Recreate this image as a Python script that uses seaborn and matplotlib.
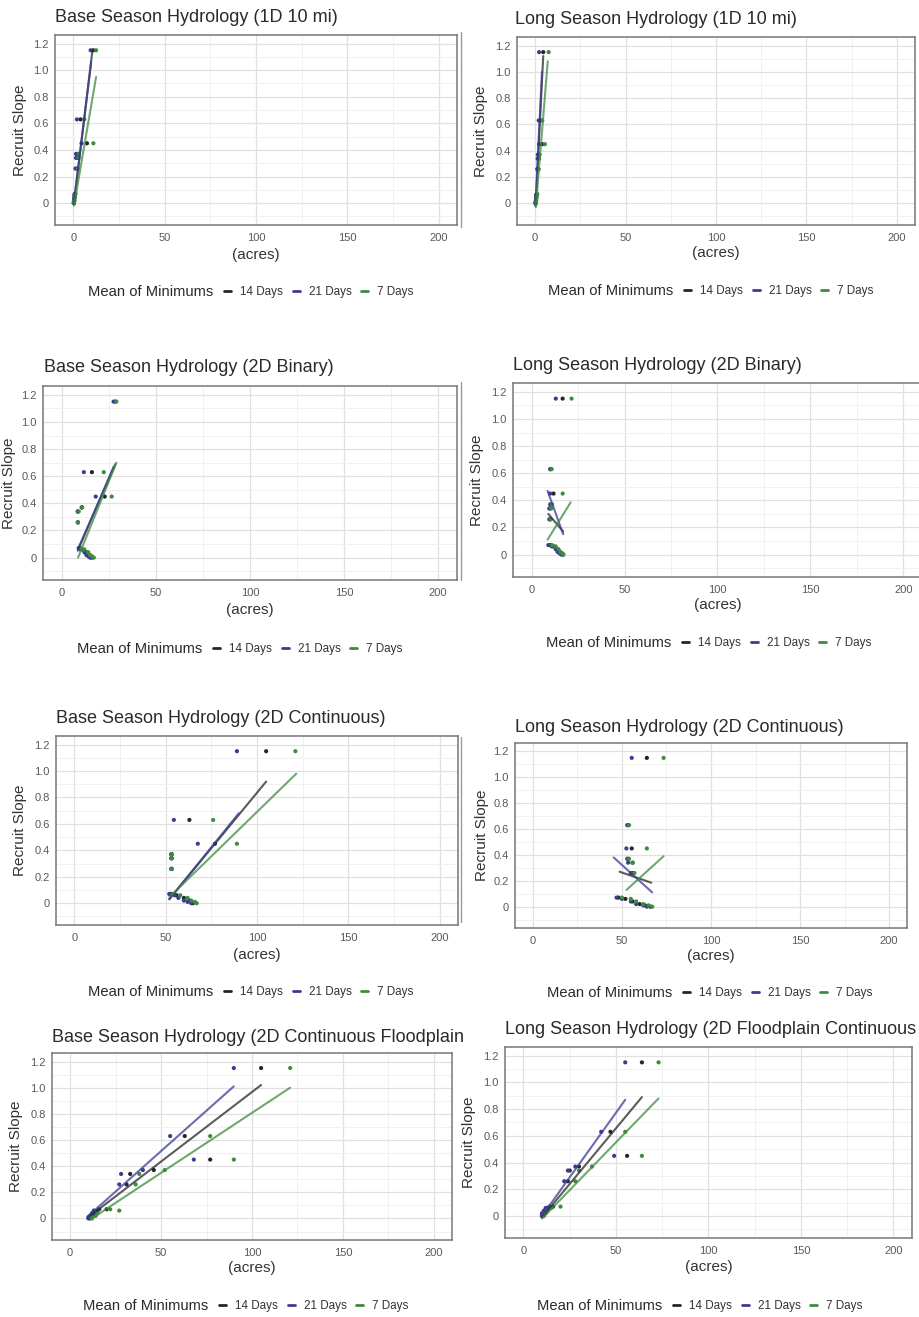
import numpy as np
import pandas as pd
import matplotlib
matplotlib.use("Agg")
import matplotlib.pyplot as plt
from matplotlib.lines import Line2D
from matplotlib.ticker import FixedLocator, FixedFormatter
import seaborn as sns

sns.set_theme(style="white")
plt.rcParams["font.family"] = ["Liberation Sans", "DejaVu Sans"]

WINDOWS = ["14 Days", "21 Days", "7 Days"]
PALETTE = {"14 Days": "#262626", "21 Days": "#3b3b94", "7 Days": "#3d8c3d"}

# Recruit slope per year, shared by every hydrology scenario
recruit_slope = [1.15, 0.63, 0.45, 0.37, 0.34, 0.26, 0.07, 0.06, 0.04, 0.02, 0.01, 0.0]

# Habitat area (acres) per year for each mean-of-minimums window
base_1d = {
    "14 Days": [11.0, 4.0, 7.5, 2.5, 2.2, 2.0, 1.0, 0.8, 0.7, 0.5, 0.4, 0.3],
    "21 Days": [9.5, 2.0, 4.5, 1.5, 1.5, 1.2, 0.8, 0.6, 0.5, 0.4, 0.3, 0.3],
    "7 Days": [12.5, 6.0, 11.0, 3.0, 2.8, 2.5, 1.2, 1.0, 0.8, 0.6, 0.5, 0.4],
}
long_1d = {
    "14 Days": [4.5, 3.0, 4.0, 2.0, 1.8, 1.5, 1.0, 0.8, 0.6, 0.5, 0.4, 0.3],
    "21 Days": [2.2, 2.0, 2.2, 1.5, 1.4, 1.2, 0.8, 0.6, 0.5, 0.4, 0.3, 0.2],
    "7 Days": [7.5, 4.0, 5.4, 2.5, 2.2, 2.0, 1.2, 1.0, 0.8, 0.6, 0.5, 0.4],
}
base_2d_binary = {
    "14 Days": [28.5, 16.0, 22.8, 10.6, 8.5, 8.5, 9.5, 11.0, 13.0, 14.5, 15.0, 16.0],
    "21 Days": [27.5, 11.7, 18.0, 10.6, 8.5, 8.5, 9.0, 10.0, 12.0, 13.0, 14.0, 15.0],
    "7 Days": [29.0, 22.3, 26.5, 10.8, 9.0, 8.6, 10.0, 12.0, 14.0, 15.0, 16.0, 17.0],
}
long_2d_binary = {
    "14 Days": [16.7, 10.2, 11.8, 10.5, 10.0, 10.0, 10.0, 12.0, 13.5, 15.0, 16.0, 17.0],
    "21 Days": [13.0, 10.0, 10.0, 10.0, 9.5, 9.5, 9.0, 11.0, 13.0, 14.0, 15.0, 16.0],
    "7 Days": [21.5, 10.8, 16.7, 11.0, 10.5, 10.2, 11.0, 13.0, 14.5, 15.5, 16.5, 17.0],
}
base_2d_cont = {
    "14 Days": [105.0, 63.0, 77.0, 53.4, 53.4, 53.4, 53.0, 56.0, 60.0, 63.0, 64.0, 65.0],
    "21 Days": [89.0, 54.5, 67.6, 53.0, 53.0, 53.0, 52.0, 55.0, 57.0, 60.0, 62.0, 64.0],
    "7 Days": [121.0, 76.0, 89.0, 53.4, 53.4, 53.4, 54.0, 58.0, 62.0, 64.0, 66.0, 67.0],
}
long_2d_cont = {
    "14 Days": [64.0, 53.5, 55.5, 53.5, 56.0, 56.0, 48.0, 52.0, 56.0, 60.0, 63.0, 66.0],
    "21 Days": [55.5, 53.0, 52.5, 53.0, 53.5, 55.0, 47.0, 50.0, 55.0, 58.0, 62.0, 64.0],
    "7 Days": [73.4, 54.0, 64.0, 54.0, 56.0, 57.0, 50.0, 55.0, 58.0, 62.0, 65.0, 67.0],
}
base_fp_cont = {
    "14 Days": [105.0, 63.0, 77.0, 46.0, 33.0, 31.0, 20.0, 15.0, 13.0, 12.0, 11.0, 11.0],
    "21 Days": [90.0, 55.0, 68.0, 40.0, 28.0, 27.0, 16.0, 13.0, 12.0, 11.0, 10.0, 10.0],
    "7 Days": [121.0, 77.0, 90.0, 52.0, 38.0, 36.0, 22.0, 27.0, 15.0, 14.0, 12.0, 12.0],
}
long_fp_cont = {
    "14 Days": [64.0, 47.0, 56.0, 30.0, 25.0, 24.0, 16.0, 13.0, 12.0, 11.0, 11.0, 10.0],
    "21 Days": [55.0, 42.0, 49.0, 28.0, 24.0, 22.0, 14.0, 12.0, 11.0, 10.0, 10.0, 10.0],
    "7 Days": [73.0, 55.0, 64.0, 37.0, 30.0, 28.0, 20.0, 15.0, 13.0, 12.0, 11.0, 11.0],
}

# Linear trend end points per window: ([acres start, end], [slope start, end])
base_1d_fit = {"14 Days": ([0.3, 10.5], [-0.01, 1.15]),
               "21 Days": ([0.3, 9.8], [0.0, 1.06]),
               "7 Days": ([0.4, 12.5], [-0.02, 0.95])}
long_1d_fit = {"14 Days": ([0.3, 4.5], [-0.02, 1.12]),
               "21 Days": ([0.2, 3.8], [-0.02, 1.0]),
               "7 Days": ([0.4, 7.0], [-0.03, 1.08])}
base_2d_binary_fit = {"14 Days": ([8.5, 28.5], [0.06, 0.69]),
                      "21 Days": ([8.5, 27.5], [0.05, 0.67]),
                      "7 Days": ([8.6, 29.0], [0.0, 0.70])}
long_2d_binary_fit = {"14 Days": ([9.0, 17.0], [0.30, 0.17]),
                      "21 Days": ([8.6, 17.0], [0.47, 0.15]),
                      "7 Days": ([8.6, 21.0], [0.11, 0.385])}
base_2d_cont_fit = {"14 Days": ([52.0, 105.0], [0.03, 0.92]),
                    "21 Days": ([52.0, 90.0], [0.03, 0.68]),
                    "7 Days": ([52.0, 121.5], [0.045, 0.98])}
long_2d_cont_fit = {"14 Days": ([48.7, 66.5], [0.27, 0.185]),
                    "21 Days": ([45.4, 67.0], [0.38, 0.11]),
                    "7 Days": ([52.6, 73.4], [0.13, 0.39])}
base_fp_cont_fit = {"14 Days": ([11.0, 105.0], [0.02, 1.02]),
                    "21 Days": ([10.0, 90.0], [0.02, 1.01]),
                    "7 Days": ([12.0, 121.0], [0.0, 1.0])}
long_fp_cont_fit = {"14 Days": ([10.0, 64.0], [-0.01, 0.89]),
                    "21 Days": ([10.0, 55.0], [0.0, 0.87]),
                    "7 Days": ([10.0, 73.0], [-0.02, 0.88])}

x_ticks = [0, 50, 100, 150, 200]
x_tick_labels = ["0", "50", "100", "150", "200"]
y_ticks = [0.0, 0.2, 0.4, 0.6, 0.8, 1.0, 1.2]
y_tick_labels = ["0", "0.2", "0.4", "0.6", "0.8", "1.0", "1.2"]

W, H = 920, 1317
fig = plt.figure(figsize=(W / 100, H / 100), dpi=100)
fig.patch.set_facecolor("white")


def fx(px):
    return px / W


def fy(py):
    return 1 - py / H


# Layout of each ggplot panel (pixel positions on the page)
panels = [
    dict(title="Base Season Hydrology (1D 10 mi)", data=base_1d, fit=base_1d_fit,
         box=(55, 35, 457, 225), title_xy=(55, 18), ylab_x=20, xlab_y=255, leg_xy=(88, 292)),
    dict(title="Long Season Hydrology (1D 10 mi)", data=long_1d, fit=long_1d_fit,
         box=(517, 37, 915, 225), title_xy=(515, 20), ylab_x=481, xlab_y=253, leg_xy=(548, 291)),
    dict(title="Base Season Hydrology (2D Binary)", data=base_2d_binary, fit=base_2d_binary_fit,
         box=(43, 386, 457, 580), title_xy=(44, 368), ylab_x=9, xlab_y=610, leg_xy=(77, 649)),
    dict(title="Long Season Hydrology (2D Binary)", data=long_2d_binary, fit=long_2d_binary_fit,
         box=(513, 383, 922, 577), title_xy=(513, 366), ylab_x=477, xlab_y=605, leg_xy=(546, 643)),
    dict(title="Base Season Hydrology (2D Continuous)", data=base_2d_cont, fit=base_2d_cont_fit,
         box=(56, 736, 458, 925), title_xy=(56, 718), ylab_x=20, xlab_y=955, leg_xy=(88, 992)),
    dict(title="Long Season Hydrology (2D Continuous)", data=long_2d_cont, fit=long_2d_cont_fit,
         box=(515, 743, 907, 928), title_xy=(515, 727), ylab_x=482, xlab_y=956, leg_xy=(547, 993)),
    dict(title="Base Season Hydrology (2D Continuous Floodplain", data=base_fp_cont, fit=base_fp_cont_fit,
         box=(52, 1053, 452, 1240), title_xy=(52, 1038), ylab_x=16, xlab_y=1268, leg_xy=(83, 1306)),
    dict(title="Long Season Hydrology (2D Floodplain Continuous", data=long_fp_cont, fit=long_fp_cont_fit,
         box=(505, 1047, 912, 1238), title_xy=(505, 1029), ylab_x=469, xlab_y=1267, leg_xy=(537, 1306)),
]

for p in panels:
    l, t, r, b = p["box"]
    ax = fig.add_axes([fx(l), fy(b), (r - l) / W, (b - t) / H])
    ax.set_facecolor("white")

    pts = pd.DataFrame({
        "acres": np.concatenate([p["data"][w] for w in WINDOWS]),
        "slope": np.tile(recruit_slope, len(WINDOWS)),
        "window": np.repeat(WINDOWS, len(recruit_slope)),
    })
    fit_df = pd.DataFrame({
        "acres": np.concatenate([p["fit"][w][0] for w in WINDOWS]),
        "slope": np.concatenate([p["fit"][w][1] for w in WINDOWS]),
        "window": np.repeat(WINDOWS, 2),
    })

    sns.scatterplot(data=pts, x="acres", y="slope", hue="window", hue_order=WINDOWS,
                    palette=PALETTE, s=9, linewidth=0, legend=False, ax=ax, zorder=3)
    sns.lineplot(data=fit_df, x="acres", y="slope", hue="window", hue_order=WINDOWS,
                 palette=PALETTE, estimator=None, sort=False, lw=1.5, alpha=0.75,
                 legend=False, ax=ax, zorder=4)

    ax.set_xlim(-10, 210)
    ax.set_ylim(-0.165, 1.265)
    ax.xaxis.set_major_locator(FixedLocator(x_ticks))
    ax.xaxis.set_major_formatter(FixedFormatter(x_tick_labels))
    ax.yaxis.set_major_locator(FixedLocator(y_ticks))
    ax.yaxis.set_major_formatter(FixedFormatter(y_tick_labels))
    ax.xaxis.set_minor_locator(FixedLocator([25, 75, 125, 175]))
    ax.yaxis.set_minor_locator(FixedLocator([-0.1, 0.1, 0.3, 0.5, 0.7, 0.9, 1.1]))
    ax.grid(True, which="major", color="#e0e0e0", lw=0.9)
    ax.grid(True, which="minor", color="#efefef", lw=0.6)
    ax.set_axisbelow(True)
    ax.tick_params(axis="both", which="major", length=3, width=0.8, color="#555555",
                   labelsize=8, labelcolor="#595959", pad=1.5)
    ax.tick_params(axis="both", which="minor", length=0)
    ax.tick_params(axis="x", pad=2.5)
    for s in ax.spines.values():
        s.set_color("#777777")
        s.set_linewidth(1.1)
    ax.set_xlabel("")
    ax.set_ylabel("")

    fig.text(fx(p["title_xy"][0]), fy(p["title_xy"][1]), p["title"], fontsize=13,
             color="#2a2a2a", ha="left", va="center")
    fig.text(fx(p["ylab_x"]), fy((t + b) / 2), "Recruit Slope", fontsize=11,
             color="#333333", rotation=90, ha="center", va="center")
    fig.text(fx((l + r) / 2), fy(p["xlab_y"]), "(acres)", fontsize=11,
             color="#333333", ha="center", va="center")

    lx, ly = p["leg_xy"]
    fig.text(fx(lx), fy(ly), "Mean of Minimums", fontsize=10.6, color="#2a2a2a",
             ha="left", va="center")
    handles = [Line2D([], [], color=PALETTE[w], lw=2) for w in WINDOWS]
    fig.legend(handles, WINDOWS, loc="center left", bbox_to_anchor=(fx(lx + 136), fy(ly)),
               ncol=3, frameon=False, fontsize=8.4, handlelength=0.6, handletextpad=0.8,
               columnspacing=0.8, borderpad=0, borderaxespad=0, labelcolor="#333333")

# thin page edges between the left and right columns
for y0, y1 in [(32, 227), (382, 580), (737, 922)]:
    fig.add_artist(Line2D([fx(461), fx(461)], [fy(y0), fy(y1)], color="#9a9a9a", lw=1.0))

fig.savefig("out.png", dpi=100, facecolor="white")
